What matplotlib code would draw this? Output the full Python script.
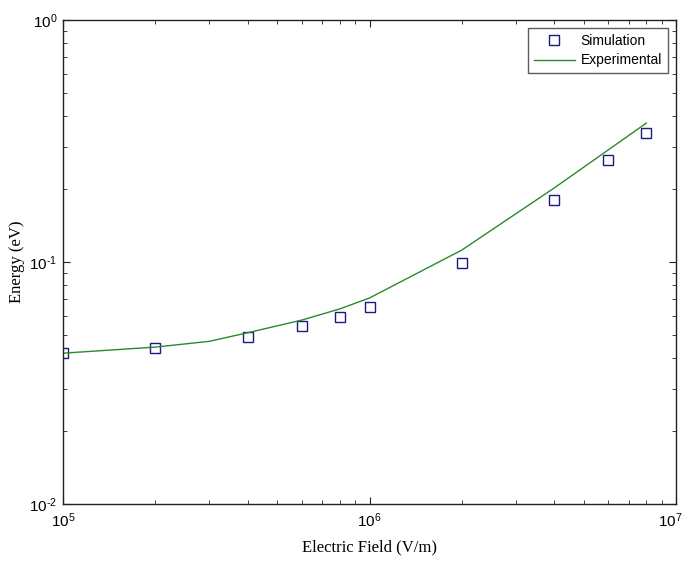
import matplotlib
matplotlib.use("Agg")
import matplotlib.pyplot as plt
from matplotlib.ticker import LogLocator, NullFormatter
from matplotlib.transforms import ScaledTranslation

sim_field = [1e5, 2e5, 4e5, 6e5, 8e5, 1e6, 2e6, 4e6, 6e6, 8e6]
sim_energy = [0.042, 0.0441, 0.049, 0.0544, 0.0593, 0.065, 0.099, 0.18, 0.264, 0.341]

exp_field = [1e5, 2e5, 3e5, 4e5, 6e5, 8e5, 1e6, 2e6, 4e6, 6e6, 8e6]
exp_energy = [0.042, 0.0445, 0.047, 0.051, 0.0575, 0.064, 0.071, 0.112, 0.202, 0.29, 0.375]

x_ticks = [1e5, 1e6, 1e7]
x_labels = [r'$10^{5}$', r'$10^{6}$', r'$10^{7}$']
y_ticks = [1e-2, 1e-1, 1e0]
y_labels = [r'$10^{\text{-}2}$', r'$10^{\text{-}1}$', r'$10^{0}$']

plt.rcParams['mathtext.fontset'] = 'custom'
plt.rcParams['mathtext.rm'] = 'Liberation Sans'
plt.rcParams['mathtext.it'] = 'Liberation Sans'
plt.rcParams['axes.unicode_minus'] = False
plt.rcParams['font.family'] = ['Liberation Sans', 'DejaVu Sans']

fig = plt.figure(figsize=(6.85, 5.63), dpi=100)
ax = fig.add_axes([63/685, 1 - 504/563, 613/685, 484/563])

ax.plot(sim_field, sim_energy, linestyle='none', marker='s', markersize=7.8,
        markerfacecolor='none', markeredgecolor='#1a1a80', markeredgewidth=1.0,
        label='Simulation')
ax.plot(exp_field, exp_energy, color='#2a8a2a', linewidth=1.0, label='Experimental')

ax.set_xscale('log')
ax.set_yscale('log')
ax.set_xlim(1e5, 1e7)
ax.set_ylim(1e-2, 1e0)

ax.set_xticks(x_ticks, x_labels)
ax.set_yticks(y_ticks, y_labels)
ax.xaxis.set_minor_locator(LogLocator(base=10, subs=range(2, 10), numticks=20))
ax.yaxis.set_minor_locator(LogLocator(base=10, subs=range(2, 10), numticks=20))
ax.xaxis.set_minor_formatter(NullFormatter())
ax.yaxis.set_minor_formatter(NullFormatter())

ax.tick_params(which='both', direction='in', top=True, right=True, labelsize=11, color='#222222')
ax.tick_params(which='major', length=5)
ax.tick_params(which='minor', length=3)
ax.tick_params(axis='x', pad=5)
ax.tick_params(axis='y', pad=4)
for s in ax.spines.values():
    s.set_linewidth(1.0)
    s.set_color('#222222')

last = ax.xaxis.get_major_ticks()[-1].label1
last.set_transform(last.get_transform() + ScaledTranslation(-4/72, 0, fig.dpi_scale_trans))

ax.set_xlabel('Electric Field (V/m)', family='Liberation Serif', fontsize=12)
ax.set_ylabel('Energy (eV)', family='Liberation Serif', fontsize=12)
ax.xaxis.set_label_coords(0.5, -(539 - 504) / 484)
ax.yaxis.set_label_coords(-(63 - 25) / 613, 0.5)

leg = ax.legend(loc='upper right', fontsize=10, frameon=True, fancybox=False,
                edgecolor='#333333', borderaxespad=0.6, handlelength=3.0,
                borderpad=0.4, labelspacing=0.4, handletextpad=0.4)
leg.get_frame().set_linewidth(1.0)

fig.savefig('out.png', dpi=100)
